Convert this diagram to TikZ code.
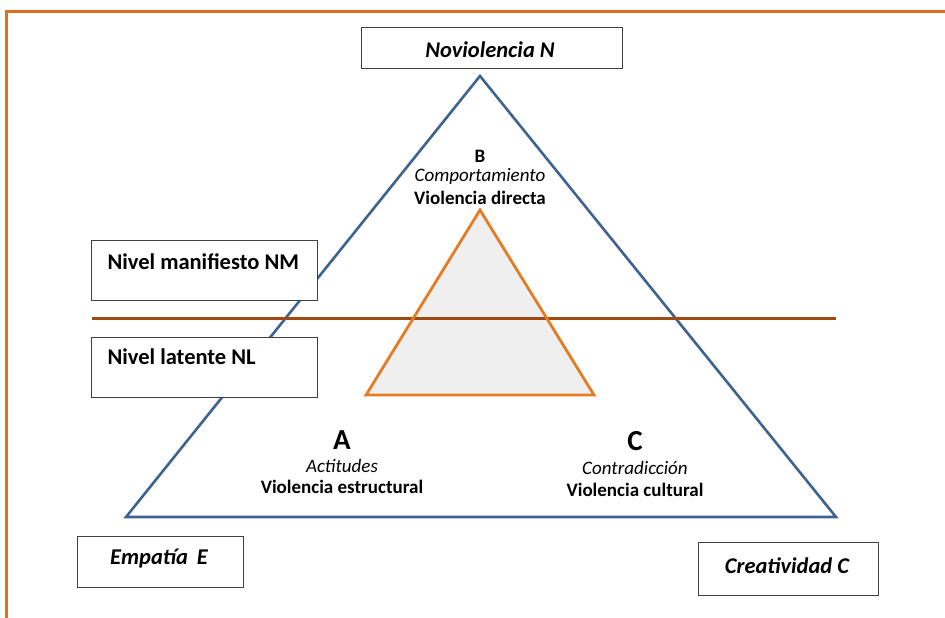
\documentclass[tikz,border=0pt]{standalone}
\usepackage{fontspec}
\setmainfont{Carlito}
\definecolor{frameorange}{HTML}{E0701E}
\definecolor{triblue}{HTML}{3F6391}
\definecolor{innerorange}{HTML}{E47C24}
\definecolor{brownline}{HTML}{9E4A10}
\definecolor{innerfill}{HTML}{EFEFEF}
\begin{document}
\begin{tikzpicture}[x=1pt,y=-1pt,
  labelbox/.style={draw=black!75, line width=1pt, fill=white, rectangle, inner sep=0pt},
  boxtext/.style={font=\fontsize{22.5}{25}\selectfont\bfseries\itshape},
  lvltext/.style={font=\fontsize{22.5}{25}\selectfont\bfseries, anchor=west},
  inner/.style={align=center}]
\useasboundingbox[fill=white] (0,0) rectangle (945,618);
% frame
\draw[frameorange, line width=3pt] (6.5,618) -- (6.5,11.5) -- (945,11.5);
% big triangle
\coordinate (Ntop) at (480,76);
\coordinate (Eleft) at (126,517);
\coordinate (Cright) at (836,517);
\draw[triblue, line width=2.6pt, line join=miter] (Ntop) -- (Eleft) -- (Cright) -- cycle;
% inner triangle fill
\coordinate (itop) at (480,210);
\coordinate (ileft) at (366,395);
\coordinate (iright) at (594,395);
\fill[innerfill] (itop) -- (ileft) -- (iright) -- cycle;
% level line
\coordinate (lvlL) at (92,318);
\coordinate (lvlR) at (836,318);
\draw[brownline, line width=3pt] (lvlL) -- (lvlR);
\draw[innerorange, line width=2.8pt, line join=miter] (itop) -- (ileft) -- (iright) -- cycle;
% boxes
\node[labelbox, minimum width=261pt, minimum height=41pt] (nov) at (491.5,48.5) {};
\node[boxtext] at (490,50) {Noviolencia N};
\node[labelbox, minimum width=226pt, minimum height=60pt] (nm) at (204,270) {};
\node[lvltext] at (104,262) {Nivel manifiesto NM};
\node[labelbox, minimum width=226pt, minimum height=60pt] (nl) at (204,367) {};
\node[lvltext] at (104,357) {Nivel latente NL};
\node[labelbox, minimum width=166pt, minimum height=51pt] (emp) at (160,561.5) {};
\node[boxtext] at (159,559) {Empatía\, E};
\node[labelbox, minimum width=180pt, minimum height=53pt] (cre) at (788,568.5) {};
\node[boxtext] at (787,566) {Creatividad C};
% vertex labels
\node[font=\fontsize{19}{21}\selectfont\bfseries] (B) at (480,156) {B};
\node[inner, font=\fontsize{19}{21}\selectfont\itshape] (Bc) at (480,176) {Comportamiento};
\node[inner, font=\fontsize{19}{21}\selectfont\bfseries] (Bv) at (480,198) {Violencia directa};
\node[font=\fontsize{29}{31}\selectfont\bfseries] (A) at (342,440) {A};
\node[inner, font=\fontsize{19}{21}\selectfont\itshape] (Aa) at (342,466) {Actitudes};
\node[inner, font=\fontsize{19}{21}\selectfont\bfseries] (Av) at (342,487) {Violencia estructural};
\node[font=\fontsize{29}{31}\selectfont\bfseries] (C) at (635,441) {C};
\node[inner, font=\fontsize{19}{21}\selectfont\itshape] (Cc) at (635,468) {Contradicción};
\node[inner, font=\fontsize{19}{21}\selectfont\bfseries] (Cv) at (635,490) {Violencia cultural};
\end{tikzpicture}
\end{document}
